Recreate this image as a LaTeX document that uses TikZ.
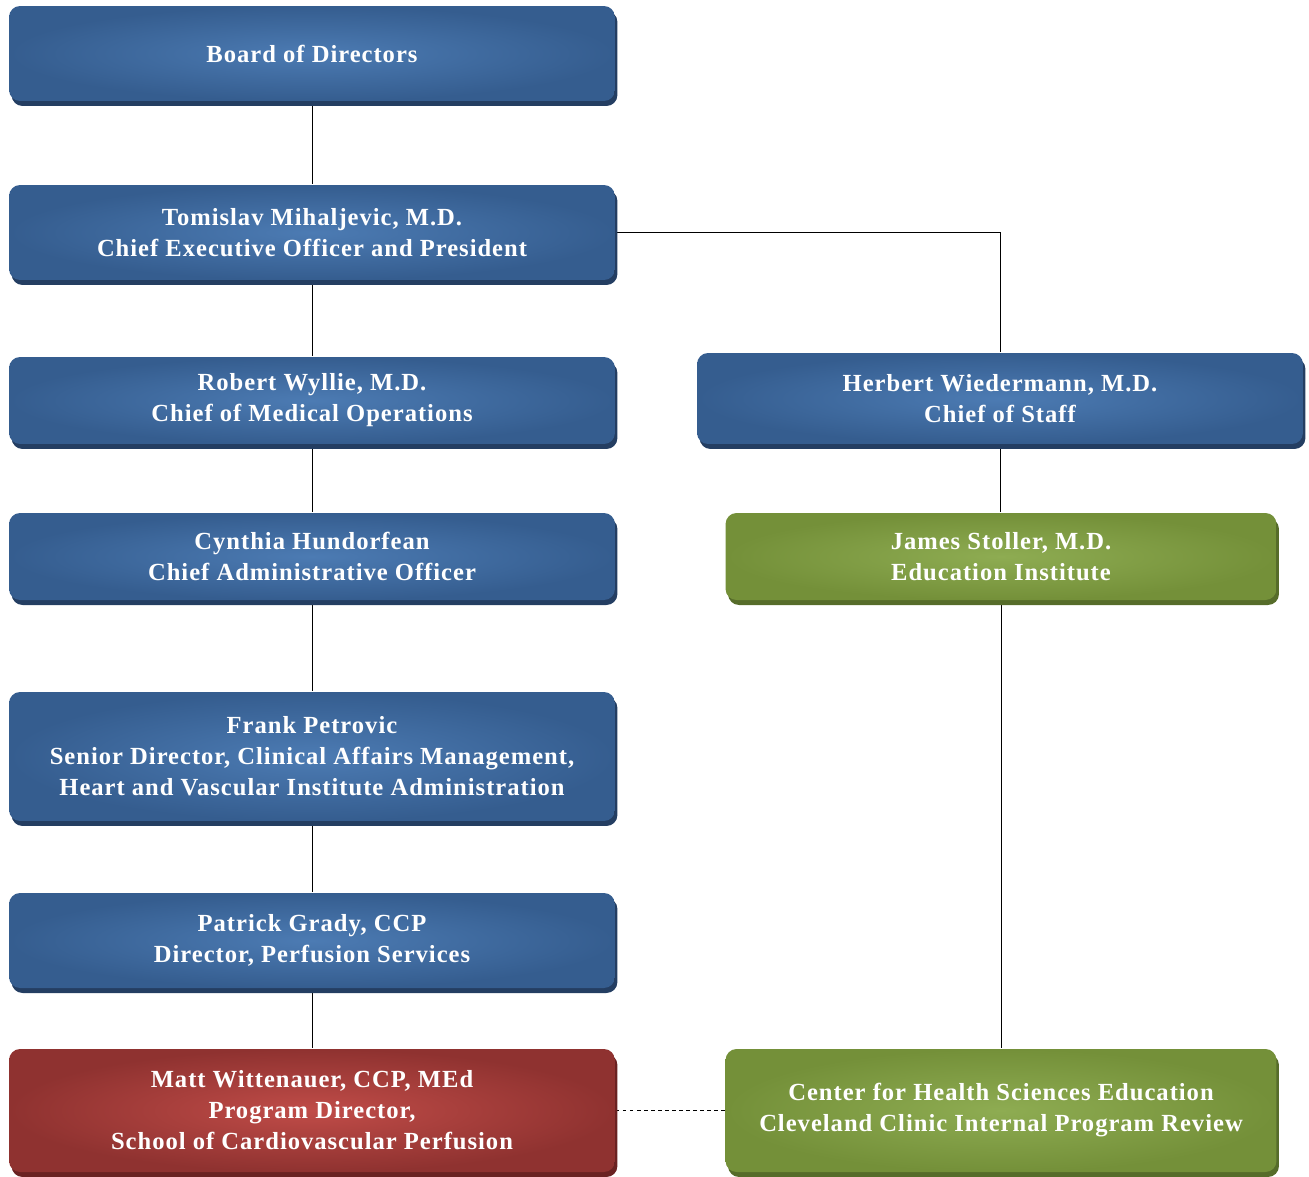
\documentclass[tikz,border=0pt]{standalone}
\usepackage{fontspec}
\setmainfont[LetterSpace=4]{Liberation Serif}
\usetikzlibrary{shadows,backgrounds}
\definecolor{blueOut}{RGB}{53,93,143}
\definecolor{blueIn}{RGB}{76,123,179}
\definecolor{blueSh}{RGB}{36,62,98}
\definecolor{greenOut}{RGB}{116,144,57}
\definecolor{greenIn}{RGB}{142,172,82}
\definecolor{greenSh}{RGB}{86,108,42}
\definecolor{redOut}{RGB}{143,50,48}
\definecolor{redIn}{RGB}{192,76,72}
\definecolor{redSh}{RGB}{106,34,34}
\begin{document}
\begin{tikzpicture}
[x=0.02cm, y=-0.02cm, line width=1.1pt,
 box/.style={rounded corners=0.22cm, text=white, align=center, inner sep=0pt,
   font=\fontsize{14}{17.6}\selectfont\bfseries, minimum width=12.12cm},
 bluebox/.style={box, inner color=blueIn, outer color=blueOut,
   drop shadow={shadow xshift=0.05cm, shadow yshift=-0.1cm, fill=blueSh, opacity=1}},
 greenbox/.style={box, inner color=greenIn, outer color=greenOut, minimum width=11.02cm,
   drop shadow={shadow xshift=0.05cm, shadow yshift=-0.1cm, fill=greenSh, opacity=1}},
 redbox/.style={box, inner color=redIn, outer color=redOut,
   drop shadow={shadow xshift=0.05cm, shadow yshift=-0.1cm, fill=redSh, opacity=1}}]
\useasboundingbox (0,0) rectangle (1309,1177);
%% left column
\node (board) at (312, 53.5) [bluebox, minimum height=1.9cm] {Board of Directors};
\node (ceo)   at (312, 232.5) [bluebox, minimum height=1.9cm] {Tomislav Mihaljevic, M.D.\\Chief Executive Officer and President};
\node (cmo)   at (312, 400.5) [bluebox, minimum height=1.74cm] {Robert Wyllie, M.D.\\Chief of Medical Operations};
\node (cao)   at (312, 556.5) [bluebox, minimum height=1.74cm] {Cynthia Hundorfean\\Chief Administrative Officer};
\node (hvi)   at (312, 756.5) [bluebox, minimum height=2.58cm] {Frank Petrovic\\Senior Director, Clinical Affairs Management,\\Heart and Vascular Institute Administration};
\node (perf)  at (312, 940.5) [bluebox, minimum height=1.9cm] {Patrick Grady, CCP\\Director, Perfusion Services};
\node (prog)  at (312, 1110.5) [redbox, minimum height=2.46cm] {Matt Wittenauer, CCP, MEd\\Program Director,\\School of Cardiovascular Perfusion};
%% right column
\node (cos)   at (1000, 398.5) [bluebox, minimum height=1.82cm] {Herbert Wiedermann, M.D.\\Chief of Staff};
\node (edu)   at (1001, 556.5) [greenbox, minimum height=1.74cm] {James Stoller, M.D.\\Education Institute};
\node (chse)  at (1001, 1110.5) [greenbox, minimum height=2.46cm] {Center for Health Sciences Education\\Cleveland Clinic Internal Program Review};
%% connectors
\begin{pgfonlayer}{background}
\draw (board) -- (ceo);
\draw (ceo) -- (cmo);
\draw (cmo) -- (cao);
\draw (cao) -- (hvi);
\draw (hvi) -- (perf);
\draw (perf) -- (prog);
\draw (ceo.east) -| (cos.north);
\draw (cos.south) -- (cos.south |- edu.north);
\draw (edu) -- (chse);
\draw[line width=0.7pt, dash pattern=on 2pt off 2pt] (prog.east) -- (chse.west); %% dotted link
\end{pgfonlayer}
\end{tikzpicture}
\end{document}
